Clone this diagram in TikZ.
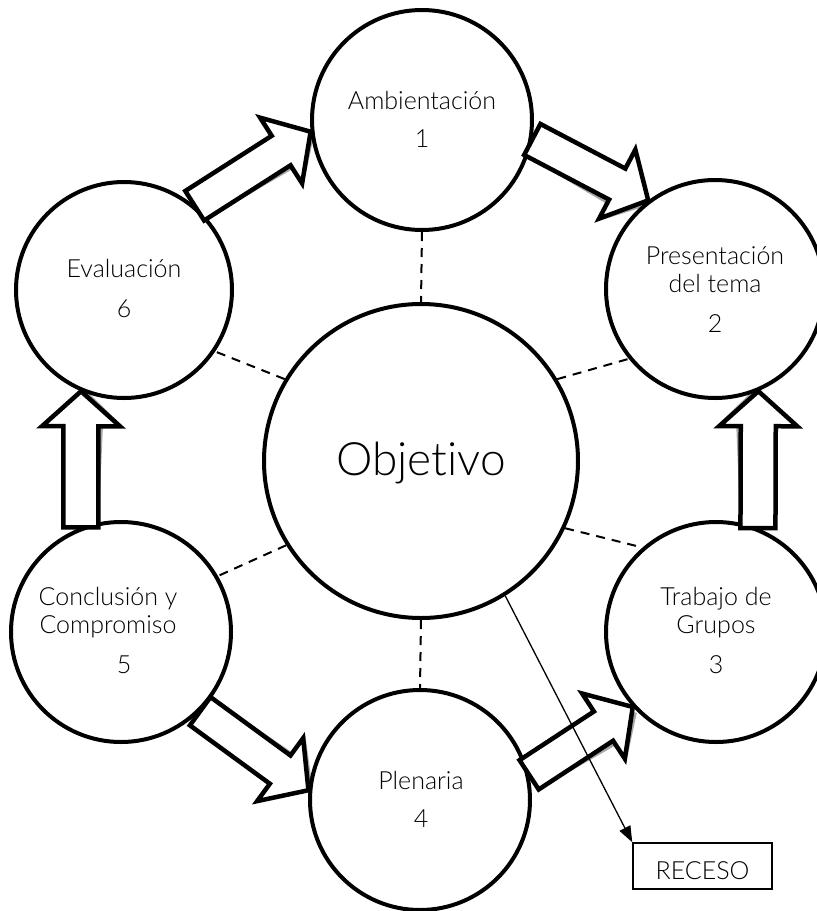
\documentclass[tikz,border=0pt]{standalone}
\usepackage{fontspec}
\setmainfont{Lato Light}[Ligatures=CommonOff]
\usetikzlibrary{calc,arrows.meta}
\pgfdeclarelayer{bg}
\pgfsetlayers{bg,main}
\definecolor{shadowgray}{RGB}{168,168,168}
\newcommand\blockarrow[3]{%
  \coordinate (ba-t) at (#1);
  \coordinate (ba-p) at (#2);
  \coordinate (ba-s) at ($(ba-p)+#3$);
  \coordinate (ba-h) at ($(ba-p)!35pt!(ba-t)$);
  \coordinate (ba-hs) at ($(ba-s)!35pt!(ba-t)$);
  \begin{pgfonlayer}{bg}
  \fill[shadowgray] ($(ba-t)!17.5pt!90:(ba-s)$) -- ($(ba-hs)!17.5pt!90:(ba-s)$) -- ($(ba-hs)!39pt!90:(ba-s)$) -- (ba-s) -- ($(ba-hs)!39pt!-90:(ba-s)$) -- ($(ba-hs)!17.5pt!-90:(ba-s)$) -- ($(ba-t)!17.5pt!-90:(ba-s)$) -- cycle;
  \end{pgfonlayer}
  \draw[blockarr] ($(ba-t)!17.5pt!90:(ba-p)$) -- ($(ba-h)!17.5pt!90:(ba-p)$) -- ($(ba-h)!39pt!90:(ba-p)$) -- (ba-p) -- ($(ba-h)!39pt!-90:(ba-p)$) -- ($(ba-h)!17.5pt!-90:(ba-p)$) -- ($(ba-t)!17.5pt!-90:(ba-p)$) -- cycle;
}
\begin{document}
\begin{tikzpicture}[x=1pt,y=-1pt,
  stagecircle/.style={circle,draw,line width=4pt,fill=white,minimum size=218pt,inner sep=0pt},
  maincircle/.style={circle,draw,line width=4pt,fill=white,minimum size=314pt,inner sep=0pt},
  blockarr/.style={draw=black,fill=white,line width=4.5pt,line join=miter,miter limit=10},
  dashline/.style={line width=2pt,dash pattern=on 9pt off 7pt},
  lbl/.style={font=\fontsize{25}{27}\selectfont,inner sep=0pt,anchor=base},
  thinarrow/.style={line width=1.3pt,-{Triangle[length=16pt,width=12pt]}},
  recbox/.style={draw,line width=1.5pt,minimum width=139pt,minimum height=46pt,inner sep=0pt}
]
\useasboundingbox (0,0) rectangle (817,911);

% circles
\node[stagecircle,minimum size=220pt] (amb) at (422,120) {};
\node[stagecircle] (pr) at (715,289) {};
\node[stagecircle,minimum size=220pt] (tr) at (716,632) {};
\node[stagecircle,minimum size=220pt] (pl) at (420,800) {};
\node[stagecircle,minimum size=220pt] (co) at (121,632) {};
\node[stagecircle,minimum size=216pt] (ev) at (124,290) {};
\node[maincircle] (obj) at (421,461) {};

% block arrows
\blockarrow{ev.50}{amb.186}{(3,5)}
\blockarrow{amb.-10}{pr.127}{(-3,6)}
\blockarrow{tr.68}{pr.-67}{(-6,0)}
\blockarrow{pl.13}{tr.222}{(4,6)}
\blockarrow{co.-45}{pl.175}{(4,-3)}
\blockarrow{co.111}{ev.247}{(6,0)}

% dashed links
\draw[dashline] (amb.-90) -- (obj.90);
\draw[dashline] (obj.-90) -- (pl.90);
\draw[dashline] (obj.149) -- (ev.-34);
\draw[dashline] (obj.31) -- (pr.219);
\draw[dashline] (obj.-25) -- (tr.131);
\draw[dashline] (obj.212) -- (co.30);

% receso
\node[recbox] (rec) at (702.5,866) {};
\node[lbl] (rec-a) at (702.5,879) {RECESO};
\draw[thinarrow] (obj.-58.5) -- (rec.north west);

% texts
\node[lbl] (amb-a) at (422,109) {Ambientación};
\node[lbl] (amb-b) at (422,147) {1};
\node[lbl] (pr-a) at (715,264) {Presentación};
\node[lbl] (pr-b) at (715,292) {del tema};
\node[lbl] (pr-c) at (715,332) {2};
\node[lbl] (tr-a) at (716,605) {Trabajo de};
\node[lbl] (tr-b) at (716,633) {Grupos};
\node[lbl] (tr-c) at (716,673) {3};
\node[lbl] (pl-a) at (421,789) {Plenaria};
\node[lbl] (pl-b) at (421,827) {4};
\node[lbl] (co-a) at (108,605) {Conclusión y};
\node[lbl] (co-b) at (108,633) {Compromiso};
\node[lbl] (co-c) at (124,673) {5};
\node[lbl] (ev-a) at (124,277) {Evaluación};
\node[lbl] (ev-b) at (124,317) {6};
\node[lbl,font=\fontsize{46}{48}\selectfont] (obj-a) at (421,475) {Objetivo};
\end{tikzpicture}
\end{document}
